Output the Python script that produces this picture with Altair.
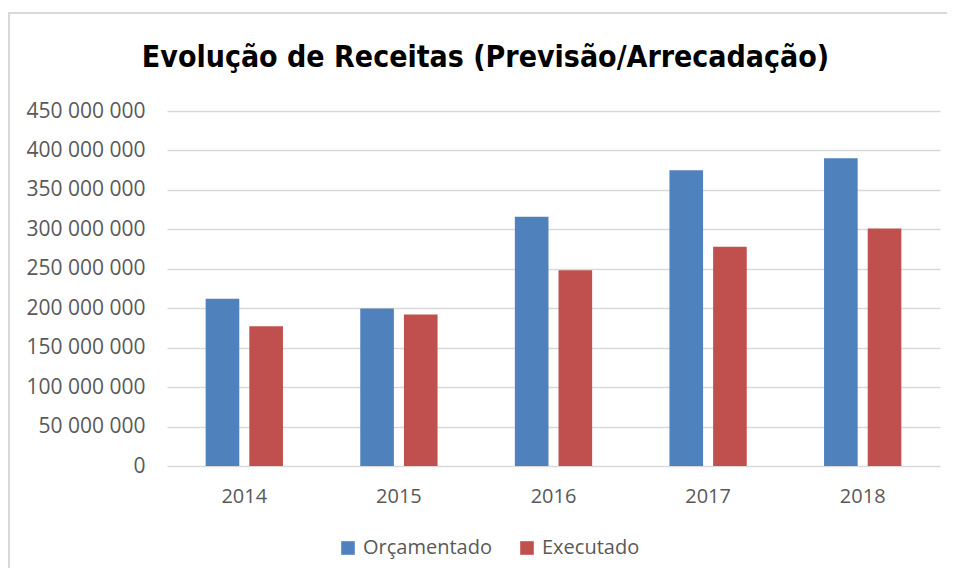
import altair as alt
import pandas as pd

years = ["2014", "2015", "2016", "2017", "2018"]
orcamentado = [212_000_000, 199_500_000, 316_000_000, 375_000_000, 390_000_000]
executado = [177_000_000, 192_000_000, 248_000_000, 278_000_000, 301_000_000]
series = ["Orçamentado", "Executado"]
colors = ["#4F81BD", "#C0504D"]
y_ticks = [0, 50_000_000, 100_000_000, 150_000_000, 200_000_000,
           250_000_000, 300_000_000, 350_000_000, 400_000_000, 450_000_000]

rows = []
for i, y in enumerate(years):
    rows.append({"Ano": y, "Série": series[0], "Valor": orcamentado[i]})
    rows.append({"Ano": y, "Série": series[1], "Valor": executado[i]})
df = pd.DataFrame(rows)

label_font = "Open Sans"

bars = alt.Chart(df).mark_bar().encode(
    x=alt.X("Ano:N", sort=years,
            scale=alt.Scale(paddingInner=0.5, paddingOuter=0.25),
            axis=alt.Axis(title=None, labelAngle=0, labelFont=label_font,
                          labelFontSize=20, labelColor="#595959",
                          ticks=False, tickSize=0, domain=False,
                          labelPadding=20, grid=False)),
    xOffset=alt.XOffset("Série:N", sort=series,
                        scale=alt.Scale(paddingInner=0.23, paddingOuter=0)),
    y=alt.Y("Valor:Q",
            scale=alt.Scale(domain=[0, 450_000_000], nice=False),
            axis=alt.Axis(title=None, values=y_ticks,
                          labelExpr="replace(format(datum.value, ','), regexp(',', 'g'), ' ')",
                          labelFont=label_font, labelFontSize=21,
                          labelColor="#595959", ticks=False, tickSize=0,
                          domain=False, labelPadding=22,
                          grid=True, gridColor="#D9D9D9", gridWidth=1.3)),
    color=alt.Color("Série:N", sort=series,
                    scale=alt.Scale(domain=series, range=colors),
                    legend=alt.Legend(title=None, orient="none",
                                      legendX=171, legendY=427,
                                      direction="horizontal",
                                      symbolType="square", symbolSize=185,
                                      symbolStrokeWidth=0,
                                      labelFont=label_font, labelFontSize=20,
                                      labelColor="#595959",
                                      labelOffset=5, columnPadding=25)),
)

border = alt.Chart(pd.DataFrame({"k": [0]})).mark_rect(
    fill=None, stroke="#D9D9D9", strokeWidth=2
).encode(
    x=alt.value(-158), x2=alt.value(800),
    y=alt.value(-98), y2=alt.value(600),
)

chart = alt.layer(border, bars).properties(
    width=773,
    height=355,
    background="white",
    title=alt.TitleParams(
        "Evolução de Receitas (Previsão/Arrecadação)",
        font="Liberation Sans Narrow, DejaVu Sans Condensed, Open Sans",
        fontSize=30, fontWeight="bold", color="#000000",
        anchor="middle", frame="group", dx=-68,
        baseline="alphabetic", offset=0, dy=85,
    ),
    autosize=alt.AutoSizeParams(type="none"),
    padding={"left": 159, "top": 103, "right": 7, "bottom": 102},
).configure_view(strokeWidth=0, stroke=None)

chart.save("out.html", embed_options={"renderer": "svg", "actions": False})
